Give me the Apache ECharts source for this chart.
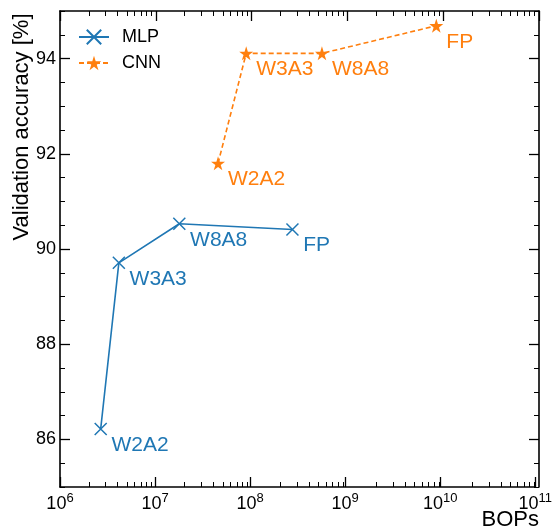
<!DOCTYPE html>
<html>
<head>
<meta charset="utf-8">
<script src="https://cdn.jsdelivr.net/npm/echarts@6/dist/echarts.min.js"></script>
<style>
html,body{margin:0;padding:0;background:#fff;}
#c{width:555px;height:531px;}
</style>
</head>
<body>
<div id="c"></div>
<script>
// ---- data ----
var labels = ['W2A2', 'W3A3', 'W8A8', 'FP'];
var mlpBops = [2.68e6, 4.16e6, 1.8e7, 2.79e8];
var mlpAcc = [86.22, 89.71, 90.53, 90.41];
var cnnBops = [4.6e7, 9.1e7, 5.7e8, 9.1e9];
var cnnAcc = [91.8, 94.11, 94.11, 94.69];
var xMajorTicks = [1e6, 1e7, 1e8, 1e9, 1e10, 1e11];
var xMinorTicks = [];
for (var d = 6; d <= 10; d++) { for (var k = 2; k <= 9; k++) { xMinorTicks.push(k * Math.pow(10, d)); } }
var yMajorTicks = [86, 88, 90, 92, 94];
var yMinorTicks = [85, 85.5, 86, 86.5, 87, 87.5, 88, 88.5, 89, 89.5, 90, 90.5, 91, 91.5, 92, 92.5, 93, 93.5, 94, 94.5, 95];

var FONT = '"Liberation Sans", Arial, Helvetica, sans-serif';
var BLUE = '#1f77b4', ORANGE = '#ff7f0e';
var starPath = 'path://M50,0 L61.23,34.55 L97.55,34.55 L68.16,55.9 L79.39,90.45 L50,69.1 L20.61,90.45 L31.84,55.9 L2.45,34.55 L38.77,34.55 Z';
var crossPath = 'path://M0,0L10,10M10,0L0,10';

var gridPos = {left: 60, right: 16, top: 11, bottom: 44};
var grids = [0, 1, 2, 3].map(function () { return Object.assign({}, gridPos); });

function xAxis(grid, pos, major, withLabel) {
  return {
    type: 'log', logBase: 10, gridIndex: grid, position: pos, min: 1e6, max: 1e11,
    axisLine: {show: major, onZero: false, lineStyle: {color: '#000', width: 1.6}},
    axisTick: {show: true, inside: true, length: major ? 10 : 5,
      customValues: major ? xMajorTicks : xMinorTicks,
      lineStyle: {color: '#000', width: major ? 1.3 : 1}},
    axisLabel: withLabel ? {
      show: true, customValues: xMajorTicks, margin: 5,
      showMinLabel: true, showMaxLabel: true,
      formatter: function (v) { return '{b|10}{s|' + Math.round(Math.log10(v)) + '}'; },
      rich: {
        b: {fontSize: 18, fontFamily: FONT, color: '#000', lineHeight: 21, verticalAlign: 'bottom'},
        s: {fontSize: 13, fontFamily: FONT, color: '#000', lineHeight: 13, verticalAlign: 'top'}
      }
    } : {show: false},
    splitLine: {show: false}, minorTick: {show: false}, minorSplitLine: {show: false}
  };
}
function yAxis(grid, pos, major, withLabel) {
  return {
    type: 'value', gridIndex: grid, position: pos, min: 85, max: 95,
    axisLine: {show: major, onZero: false, lineStyle: {color: '#000', width: 1.6}},
    axisTick: {show: true, inside: true, length: major ? 10 : 5,
      customValues: major ? yMajorTicks : yMinorTicks,
      lineStyle: {color: '#000', width: major ? 1.3 : 1}},
    axisLabel: withLabel ? {
      show: true, customValues: yMajorTicks, margin: 4,
      fontSize: 18, fontFamily: FONT, color: '#000'
    } : {show: false},
    splitLine: {show: false}
  };
}

function mkSeries(name, xs, ys, color, symbol, size, dashed, borderW) {
  var data = xs.map(function (x, i) { return [x, ys[i], labels[i]]; });
  return {
    name: name, type: 'line', xAxisIndex: 0, yAxisIndex: 0, data: data,
    symbol: symbol, symbolSize: size, showAllSymbol: true,
    lineStyle: {color: color, width: 1.6, type: dashed ? [5, 3] : 'solid'},
    itemStyle: {color: color, borderColor: color, borderWidth: borderW},
    label: {
      show: true, position: 'right', distance: 0, offset: [10 - size / 2, 16],
      formatter: function (p) { return p.data[2]; },
      fontSize: 21, fontFamily: FONT, color: color
    },
    emphasis: {disabled: true}, animation: false, z: 5
  };
}

var chart = echarts.init(document.getElementById('c'), null, {renderer: 'canvas'});
chart.setOption({
  animation: false,
  backgroundColor: '#fff',
  grid: grids,
  xAxis: [
    xAxis(0, 'bottom', true, true),
    xAxis(1, 'top', true, false),
    xAxis(2, 'bottom', false, false),
    xAxis(3, 'top', false, false)
  ],
  yAxis: [
    yAxis(0, 'left', true, true),
    yAxis(1, 'right', true, false),
    yAxis(2, 'left', false, false),
    yAxis(3, 'right', false, false)
  ],
  legend: {
    data: ['MLP', 'CNN'], orient: 'vertical', left: 73, top: 22,
    itemWidth: 30, itemHeight: 18, itemGap: 6,
    textStyle: {fontSize: 18, fontFamily: FONT, color: '#000', lineHeight: 20, padding: [0, 0, 0, 8]}
  },
  series: [
    mkSeries('MLP', mlpBops, mlpAcc, BLUE, crossPath, 12, false, 1.5),
    mkSeries('CNN', cnnBops, cnnAcc, ORANGE, starPath, 14, true, 0)
  ],
  graphic: [
    {type: 'text', x: 22, y: 127, rotation: Math.PI / 2,
      style: {text: 'Validation accuracy [%]', fontSize: 22, fontFamily: FONT, fill: '#000', align: 'center', verticalAlign: 'middle'}},
    {type: 'text', x: 539, y: 520,
      style: {text: 'BOPs', fontSize: 22, fontFamily: FONT, fill: '#000', align: 'right', verticalAlign: 'middle'}}
  ]
});
</script>
</body>
</html>
